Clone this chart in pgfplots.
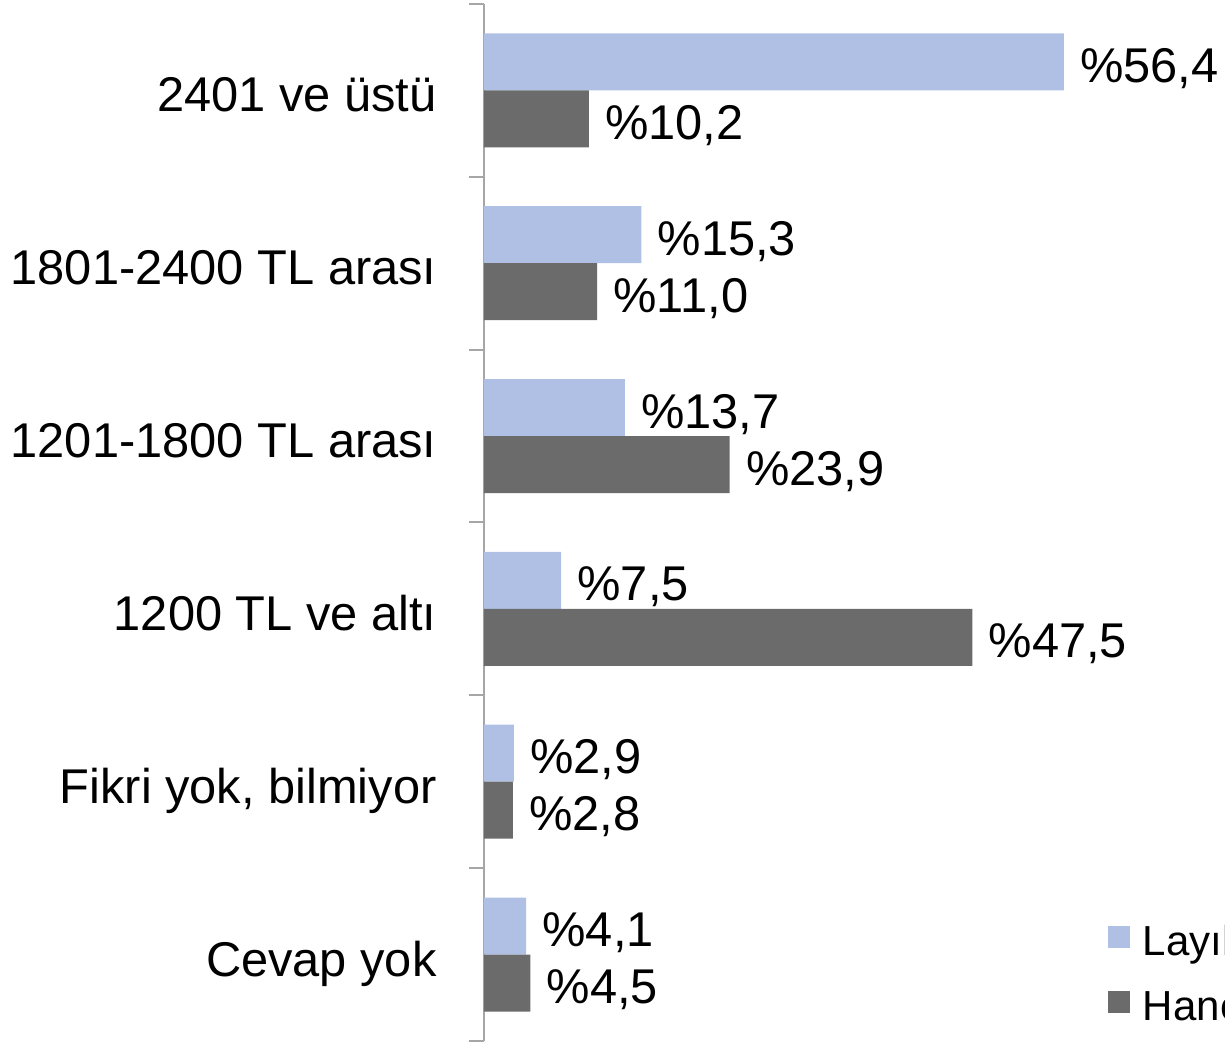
\documentclass[border=0pt]{standalone}
\usepackage{pgfplots}
\pgfplotsset{compat=1.18}
\usepackage{fontspec}
\setmainfont{Liberation Sans}
\definecolor{lightbar}{HTML}{B0C0E4}
\definecolor{darkbar}{HTML}{6B6B6B}
\definecolor{axisgray}{HTML}{A6A6A6}
\begin{document}
\begin{tikzpicture}
\useasboundingbox (-242pt,-0.5pt) rectangle (370.5pt,520.5pt);
\begin{axis}[
 at={(0pt,0pt)}, anchor=south west,
 scale only axis, width=370.5pt, height=518.5pt,
 xmin=0, xmax=72.08, ymin=-0.5, ymax=5.5,
 axis y line*=left, axis x line=none,
 axis line style={draw=axisgray, line width=1pt, -},
 ytick={0,...,5},
 yticklabels={Cevap yok, {Fikri yok, bilmiyor}, 1200 TL ve altı, 1201-1800 TL arası, 1801-2400 TL arası, 2401 ve üstü},
 major tick length=0pt,
 minor ytick={-0.5,0.5,1.5,2.5,3.5,4.5,5.5},
 minor tick length=7.5pt,
 tick align=outside,
 major tick style={draw=none},
 minor tick style={draw=axisgray, line width=1pt},
 yticklabel style={font=\fontsize{24.4}{29}\selectfont, anchor=base east, inner sep=0pt, xshift=-23.5pt, yshift=-10.8pt},
 xbar, bar width=28.5pt,
 nodes near coords={\%\pgfmathprintnumber[fixed, fixed zerofill, precision=1, use comma, assume math mode=true]{\pgfplotspointmeta}},
 nodes near coords style={font=\fontsize{24.4}{29}\selectfont, anchor=base west, inner sep=0pt, xshift=8pt, yshift=-10.25pt, text=black},
 clip=false,
 legend style={at={(rel axis cs:0.8421,0.1109)}, anchor=north west, draw=none, fill=none, inner sep=0pt, outer sep=0pt, font=\fontsize{21}{25}\selectfont, row sep=13.5pt, column sep=6.5pt, nodes={inner sep=0pt, text height=15pt, text depth=4pt}},
 legend cell align=left,
 legend image code/.code={\fill[#1] (0pt,-1.5pt) rectangle (11pt,9.5pt);},
]
\addplot[fill=lightbar, draw=none, bar shift=14.25pt] coordinates {(4.1,0) (2.9,1) (7.5,2) (13.7,3) (15.3,4) (56.4,5)};
\addplot[fill=darkbar, draw=none, bar shift=-14.25pt] coordinates {(4.5,0) (2.8,1) (47.5,2) (23.9,3) (11.0,4) (10.2,5)};
\legend{Layık görülen gelir, Hane geliri}
\end{axis}
\end{tikzpicture}
\end{document}
